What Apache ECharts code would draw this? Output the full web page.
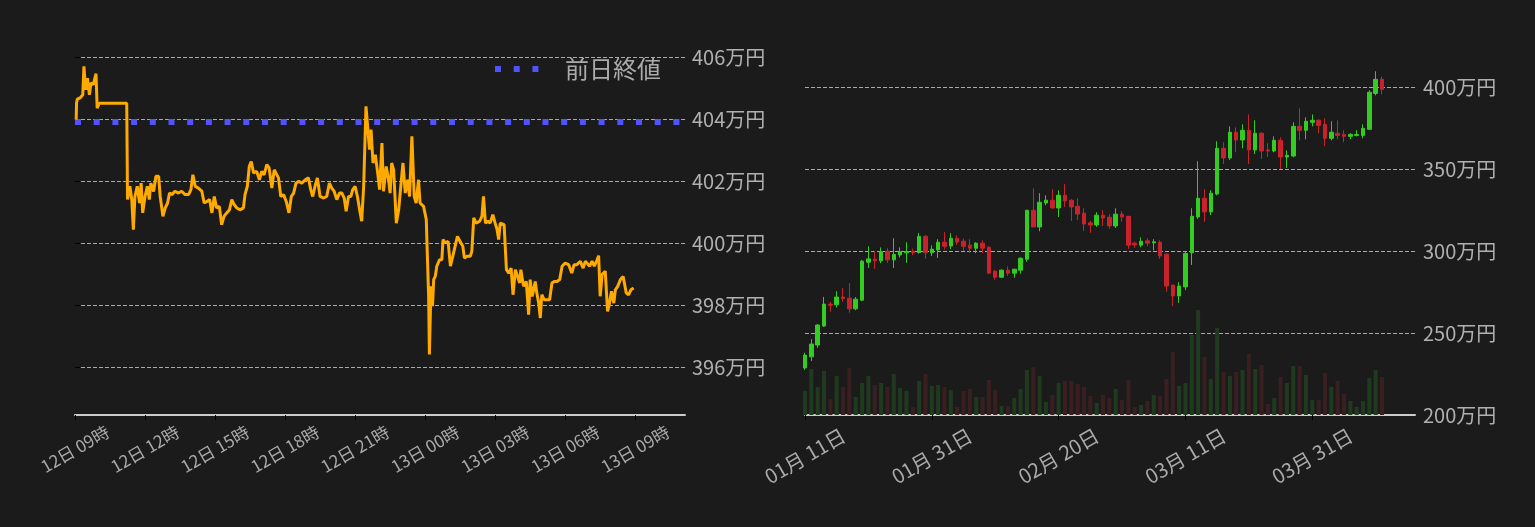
<!DOCTYPE html>
<html>
<head>
<meta charset="utf-8">
<script src="https://cdn.jsdelivr.net/npm/echarts/dist/echarts.min.js"></script>
<style>
  html, body { margin: 0; padding: 0; background: #1b1b1b; }
  #main { width: 1535px; height: 527px; }
</style>
</head>
<body>
<div id="main"></div>
<script>
// 左: 12日09時からの経過分と価格(万円)
var priceMinutes = [3,4,6,13,20,23,26,28,32,37,41,47,54,57,62,133,135,141,146,150,154,160,166,170,174,180,186,191,195,202,208,215,219,226,232,238,243,249,257,266,274,283,292,298,303,309,317,326,332,339,346,352,358,364,371,377,383,390,397,403,409,416,424,433,437,443,448,453,459,467,474,480,486,493,499,506,512,517,523,529,536,543,550,556,562,568,575,583,592,600,606,611,617,623,630,639,647,654,660,666,673,680,686,692,697,703,709,714,720,726,733,737,742,746,748,752,757,761,766,772,778,783,789,793,800,806,810,814,819,826,832,836,843,849,855,860,866,872,877,883,887,896,903,
  905,909,911,915,919,922,926,930,937,943,946,952,959,965,971,977,983,990,997,1001,1007,1016,1020,1025,1031,1040,1046,1050,1055,1061,1067,1074,1080,1085,1089,1093,1097,1103,1109,1115,1121,1126,1132,1136,1143,1146,1153,1160,1166,1170,1175,1179,1183,1187,1192,1196,1200,1206,1213,1220,1226,1232,1239,1246,1252,1260,1269,1277,1283,1290,1299,1306,1312,1316,1323,1329,1335,1342,1346,1350,1355,1359,1363,1366,1369,1374,1379,1385,1389,1395,1402,1409,1413,1417,1423,1429,1436];
var priceValues = [403.98,404.52,404.64,404.68,404.78,405.70,405.16,404.94,405.32,404.78,405.16,405.11,405.46,404.35,404.51,404.51,401.40,401.83,401.40,400.43,401.50,401.83,401.29,401.93,400.97,401.50,401.83,401.40,401.93,401.66,402.15,402.15,401.50,400.86,401.13,401.29,401.61,401.56,401.67,401.61,401.67,401.56,401.56,401.72,402.20,401.83,401.77,401.67,401.29,401.34,401.40,400.97,401.50,401.13,401.18,400.59,400.86,400.97,401.07,401.40,401.24,401.13,401.07,401.13,401.56,401.83,402.47,402.63,402.26,402.31,402.04,402.31,402.20,402.53,402.42,401.77,402.36,402.42,402.10,401.50,401.56,401.34,400.97,401.50,401.61,401.93,401.99,401.93,402.04,402.10,401.72,401.50,401.83,402.10,401.50,401.45,401.50,401.93,401.77,401.67,401.40,401.61,401.61,401.45,401.02,401.50,401.50,401.72,401.83,401.50,400.97,400.70,401.83,401.88,404.41,404.46,403.01,403.66,402.58,402.85,402.26,401.72,403.22,401.67,402.47,402.04,401.61,402.58,402.36,400.64,401.07,401.07,402.58,401.61,402.04,401.50,403.44,401.50,401.29,402.04,401.29,401.18,400.75,
  399.89,398.28,396.40,398.60,397.96,398.82,398.92,399.25,399.46,399.46,400.11,400.00,400.05,399.25,399.57,399.89,400.21,400.05,399.89,399.51,399.57,399.57,399.73,400.81,400.64,400.70,400.86,401.50,400.64,400.70,400.64,400.91,400.64,400.43,400.11,400.64,400.59,400.59,399.14,399.03,399.19,398.33,399.14,399.14,398.71,399.14,398.60,398.76,397.69,398.82,398.28,398.49,398.76,398.39,398.06,397.58,398.33,398.17,398.17,398.17,398.71,398.76,398.76,398.82,399.25,399.35,399.30,399.03,399.30,399.30,399.41,399.19,399.41,399.46,399.25,399.41,399.25,399.46,399.59,398.28,398.98,398.92,399.09,399.03,397.79,398.06,398.44,398.06,398.49,398.60,398.82,398.92,398.87,398.39,398.33,398.49,398.55];
var prevClose = 403.90;
var hourTicks = [0, 180, 360, 540, 720, 900, 1080, 1260, 1440];

// 右: 日足(万円) 2024-01-11 から
var firstDay = '2024-01-11';
var opens = [228.7,235.5,242.7,254.3,267.7,267.3,272,271.3,264.8,270.1,293.3,295.1,294.1,300,294.7,297.7,299,299.9,299.2,309.1,299,300.8,305.5,303.2,307.9,306.1,303.7,301.8,304.9,302.4,287.8,284.1,288.4,286.6,288.4,295.1,325,314.8,329.4,331.1,326.4,334.1,331.1,327.4,323.2,317.3,316,322,320.7,315.4,322.6,321.3,304.9,303.7,306.3,305.1,305.5,298.2,279.3,272.7,278.2,299,320.9,332.3,324,334.9,362.8,356.9,372.6,367.9,373.8,361.8,372,361.8,361.2,367.7,357.5,358.1,376.2,373.8,378.7,379.9,377.4,368.9,372,371.3,370.1,370.7,370.7,374.4,396.3,404.9];
var closes = [236.6,243.3,254.9,267.7,267,272,271.1,264.8,270.7,293.9,295.3,294.1,299.8,294.7,298,299.6,299.8,299.2,309.1,299,301.2,305.5,303,307.9,305.5,303,301.8,304.9,301.8,286.6,284.1,288.4,286.6,289,295.7,325,314.8,329.9,331.1,326.4,334.1,330.7,327,322.7,316.6,316,322,320.3,315.4,322.6,320.9,303.7,303.8,306.1,304.9,305.7,297.1,278.7,272.7,278.7,298.6,321.3,332.3,324,335.4,362.8,356.9,372.6,367.9,373.8,361.8,372,361.2,361.2,367.7,357.5,358.5,376.2,373.8,379.3,379.9,376.8,368.9,372.6,370.7,370.1,371.3,371.3,375,397,404.9,398.8];
var lows = [227.5,232.9,241,253.8,263,265.7,269.1,262.4,264,269.5,289.8,289.2,292.7,292.9,289.8,296.2,292.9,297.6,298.5,295.3,297.1,295.9,301.2,301.4,303.8,300.2,299,298.8,298.8,286,282.5,283.8,284.9,283.7,286.2,293.5,314.8,312.2,328,325.8,320.9,327,318.5,319.1,312.4,311.2,314.8,315.4,313.6,314.2,317.9,301.4,302,302.4,303,300.6,295.3,275.2,266.6,268.5,276.2,291.6,319.7,317.9,322.1,334.1,353.2,355.7,360.4,362.8,353.2,359.3,356.3,357.5,360.4,350.2,350.8,357.3,367.7,368.3,376.2,372,364,367.7,368.3,366.5,368.3,370.1,368.9,374.4,395.1,395.7];
var highs = [238,246.3,255.5,272.1,269,275.6,277.4,280.5,272,294.7,303,300,302.3,301.8,307.9,302.3,305.5,301.6,311.2,309.8,303.5,307.3,311.6,311,309.8,307.7,307.3,305.5,306.7,302.9,288.6,288.9,290.7,289,296.2,325,338.4,335.4,334.1,337.8,337.2,340.9,331.7,332.3,326.2,318.5,323.8,325,322.6,326.2,324.4,321.3,305.9,308.5,307.9,307.3,306.7,298.6,279.3,281.1,299.6,326.2,354.9,337.8,337.2,367.1,366.5,376.2,375.6,377.4,383.5,379.9,372.6,365.9,370.1,369.5,361.6,378.7,387.2,381.7,383.5,380.5,381.1,379.3,379.9,373.8,372,373.8,377.4,398.2,409.8,406.7];
var volumes = [24,46,28,44,16,39,28,47,18,32,39,30,32,28,41,27,24,8,34,41,29,30,28,25,8,24,26,18,18,35,25,9,9,17,26,45,48,39,13,20,32,34,34,31,28,19,12,20,17,26,15,35,8,10,14,20,19,36,63,29,32,80,105,58,36,87,43,39,43,45,61,46,50,11,17,38,32,49,49,40,15,15,42,28,34,21,14,8,14,37,45,38];
var dayTicks = [0, 20, 40, 60, 80];

var upColor = '#33cc22';
var downColor = '#c8232d';

function pad(n) { return (n < 10 ? '0' : '') + n; }
function hourLabel(m) {
  var t = 540 + m;
  return (12 + Math.floor(t / 1440)) + '日 ' + pad(Math.floor((t % 1440) / 60)) + '時';
}
function dayLabel(d) {
  var p = firstDay.split('-');
  var t = new Date(Date.UTC(+p[0], +p[1] - 1, +p[2] + d));
  return pad(t.getUTCMonth() + 1) + '月 ' + pad(t.getUTCDate()) + '日';
}

var lineData = priceMinutes.map(function (m, i) { return [m, priceValues[i]]; });
var candleData = opens.map(function (o, i) { return [i, o, closes[i], lows[i], highs[i]]; });
var volumeData = volumes.map(function (v, i) {
  return {
    value: [i, v],
    itemStyle: { color: closes[i] >= opens[i] ? '#1f3a1f' : '#3a1f21' }
  };
});

var myChart = echarts.init(document.getElementById('main'));
var option = {
  backgroundColor: '#1b1b1b',
  animation: false,
  textStyle: { fontFamily: 'Noto Sans CJK JP' },
  legend: {
    data: ['前日終値'],
    left: 487, top: 52,
    itemWidth: 44, itemHeight: 14,
    lineStyle: { width: 6 },
    itemStyle: { opacity: 0 },
    textStyle: { color: '#aaa', fontSize: 24, padding: [0, 0, 0, 21] }
  },
  grid: [
    { left: 75, right: 850, top: 57, bottom: 112 },
    { left: 805, right: 120, top: 71, bottom: 112 }
  ],
  xAxis: [
    {
      type: 'value', gridIndex: 0, min: 0, max: 1568,
      splitLine: { show: false },
      axisLine: { lineStyle: { color: '#cccccc', width: 2 } },
      axisTick: { customValues: hourTicks, length: 5, lineStyle: { color: '#000' } },
      axisLabel: {
        customValues: hourTicks, formatter: hourLabel,
        rotate: 30, align: 'center', verticalAlign: 'middle', margin: 34,
        color: '#aaaaaa', fontSize: 17
      }
    },
    {
      type: 'value', gridIndex: 1, min: 0, max: 96.2,
      splitLine: { show: false },
      axisLine: { lineStyle: { color: '#cccccc', width: 2 } },
      axisTick: { customValues: dayTicks, length: 5, lineStyle: { color: '#000' } },
      axisLabel: {
        customValues: dayTicks, formatter: dayLabel,
        rotate: 30, align: 'center', verticalAlign: 'middle', margin: 41,
        color: '#aaaaaa', fontSize: 20
      }
    }
  ],
  yAxis: [
    {
      type: 'value', gridIndex: 0, position: 'right', min: 394.45, max: 406,
      axisLine: { show: false },
      axisTick: { show: true, length: 5, lineStyle: { color: '#000' } },
      splitLine: { showMinLine: false, lineStyle: { color: '#aaaaaa', type: [4, 2] } },
      axisLabel: {
        showMinLabel: false, margin: 7, color: '#b0b0b0', fontSize: 20,
        formatter: function (v) { return v + '万円'; }
      }
    },
    {
      type: 'value', gridIndex: 1, position: 'right', min: 200, max: 410,
      axisLine: { show: false },
      axisTick: { show: false },
      splitLine: { showMaxLine: false, showMinLine: false, lineStyle: { color: '#aaaaaa', type: [4, 2] } },
      axisLabel: {
        showMaxLabel: false, margin: 8, color: '#b0b0b0', fontSize: 20,
        formatter: function (v) { return v + '万円'; }
      }
    },
    { type: 'value', gridIndex: 1, min: 0, max: 344, show: false }
  ],
  series: [
    {
      name: '前日終値', type: 'line', xAxisIndex: 0, yAxisIndex: 0,
      data: [[0, prevClose], [1568, prevClose]],
      symbol: 'none', color: '#5252ff', z: 2,
      lineStyle: { color: '#5252ff', width: 6, type: [6, 12.7], cap: 'butt' }
    },
    {
      name: '価格', type: 'line', xAxisIndex: 0, yAxisIndex: 0,
      data: lineData, showSymbol: false, symbol: 'none', z: 3,
      lineStyle: { color: '#ffaa00', width: 3 }
    },
    {
      name: '出来高', type: 'bar', xAxisIndex: 1, yAxisIndex: 2,
      data: volumeData, barWidth: 4, z: 1
    },
    {
      name: '日足', type: 'candlestick', xAxisIndex: 1, yAxisIndex: 1,
      data: candleData, encode: { x: 0, y: [1, 2, 3, 4] },
      barWidth: 4, z: 2,
      itemStyle: {
        color: upColor, color0: downColor,
        borderColor: upColor, borderColor0: downColor, borderWidth: 1
      }
    }
  ]
};
myChart.setOption(option);
</script>
</body>
</html>
